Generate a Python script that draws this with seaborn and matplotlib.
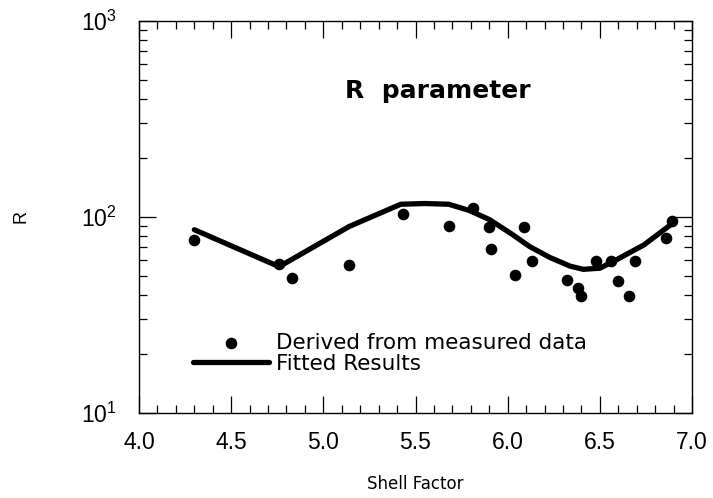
import numpy as np
import pandas as pd
import matplotlib
matplotlib.use("Agg")
import matplotlib.pyplot as plt
import seaborn as sns
from matplotlib.ticker import LogLocator, MultipleLocator, FixedLocator, FuncFormatter

# measured data
meas_x = [4.30, 4.76, 4.83, 5.14, 5.43, 5.68, 5.81, 5.90, 5.91, 6.04, 6.09, 6.13,
          6.32, 6.38, 6.40, 6.48, 6.56, 6.60, 6.66, 6.69, 6.86, 6.89]
meas_y = [76, 57.5, 49, 57, 103.5, 90, 111, 89, 68.7, 50.5, 88.5, 59.8,
          47.8, 43.3, 39.5, 59.8, 59.8, 47.3, 39.5, 59.2, 78.3, 95.7]

# fitted results
fit_x = [4.30, 4.76, 5.14, 5.42, 5.55, 5.68, 5.79, 5.90, 6.02, 6.12, 6.23, 6.34,
         6.41, 6.50, 6.59, 6.74, 6.89]
fit_y = [86, 55.7, 89.3, 116, 117, 116, 108, 97, 82, 70.5, 62, 56,
         54, 54.7, 60.4, 72, 92]

x_ticks = [4.0, 4.5, 5.0, 5.5, 6.0, 6.5, 7.0]
x_tick_labels = ["4.0", "4.5", "5.0", "5.5", "6.0", "6.5", "7.0"]

df_meas = pd.DataFrame({"x": meas_x, "y": meas_y})
df_fit = pd.DataFrame({"x": fit_x, "y": fit_y})

sns.set_theme(style="ticks")
plt.rcParams["font.family"] = ["Liberation Sans", "DejaVu Sans"]
plt.rcParams["text.color"] = "black"
plt.rcParams["axes.labelcolor"] = "black"
plt.rcParams["xtick.color"] = "black"
plt.rcParams["ytick.color"] = "black"

fig = plt.figure(figsize=(7.13, 4.98), dpi=100)
ax = fig.add_axes([0.195, 0.171, 0.7755, 0.787])

sns.scatterplot(data=df_meas, x="x", y="y", ax=ax, color="black", s=70,
                edgecolor="black", linewidth=0, label="Derived from measured data",
                zorder=3)
sns.lineplot(data=df_fit, x="x", y="y", ax=ax, color="black", linewidth=3.8,
             sort=False, estimator=None, label="Fitted Results", zorder=2)

ax.set_yscale("log")
ax.set_xlim(4.0, 7.0)
ax.set_ylim(10, 1000)

ax.xaxis.set_major_locator(FixedLocator(x_ticks))
ax.set_xticklabels(x_tick_labels)
ax.xaxis.set_minor_locator(MultipleLocator(0.1))
ax.yaxis.set_major_locator(LogLocator(base=10, numticks=5))
ax.yaxis.set_minor_locator(LogLocator(base=10, subs=np.arange(2, 10), numticks=20))
ax.yaxis.set_major_formatter(FuncFormatter(lambda v, p: r"$\mathregular{10^{%d}}$" % int(round(np.log10(v)))))

ax.tick_params(which="both", direction="in", top=True, right=True, color="black", width=0.9)
ax.tick_params(which="major", length=12, labelsize=16.5, pad=13)
ax.tick_params(which="minor", length=6)
ax.tick_params(axis="y", which="major", pad=16)

for sp in ax.spines.values():
    sp.set_color("black")
    sp.set_linewidth(1.0)

ax.set_xlabel("Shell Factor", fontsize=12, labelpad=15, family=["DejaVu Sans"])
ax.set_ylabel("R", fontsize=13, labelpad=37)

ax.text(0.541, 0.82, "R  parameter", transform=ax.transAxes, ha="center", va="center",
        fontsize=18, fontweight="bold", family=["DejaVu Sans"])

leg = ax.legend(loc="lower left", bbox_to_anchor=(0.0976, 0.10), frameon=False,
                prop={"family": "DejaVu Sans", "size": 15.5},
                handlelength=3.55, handletextpad=0.3, labelspacing=0.05,
                borderaxespad=0, borderpad=0)

fig.savefig("out.png", dpi=100)
